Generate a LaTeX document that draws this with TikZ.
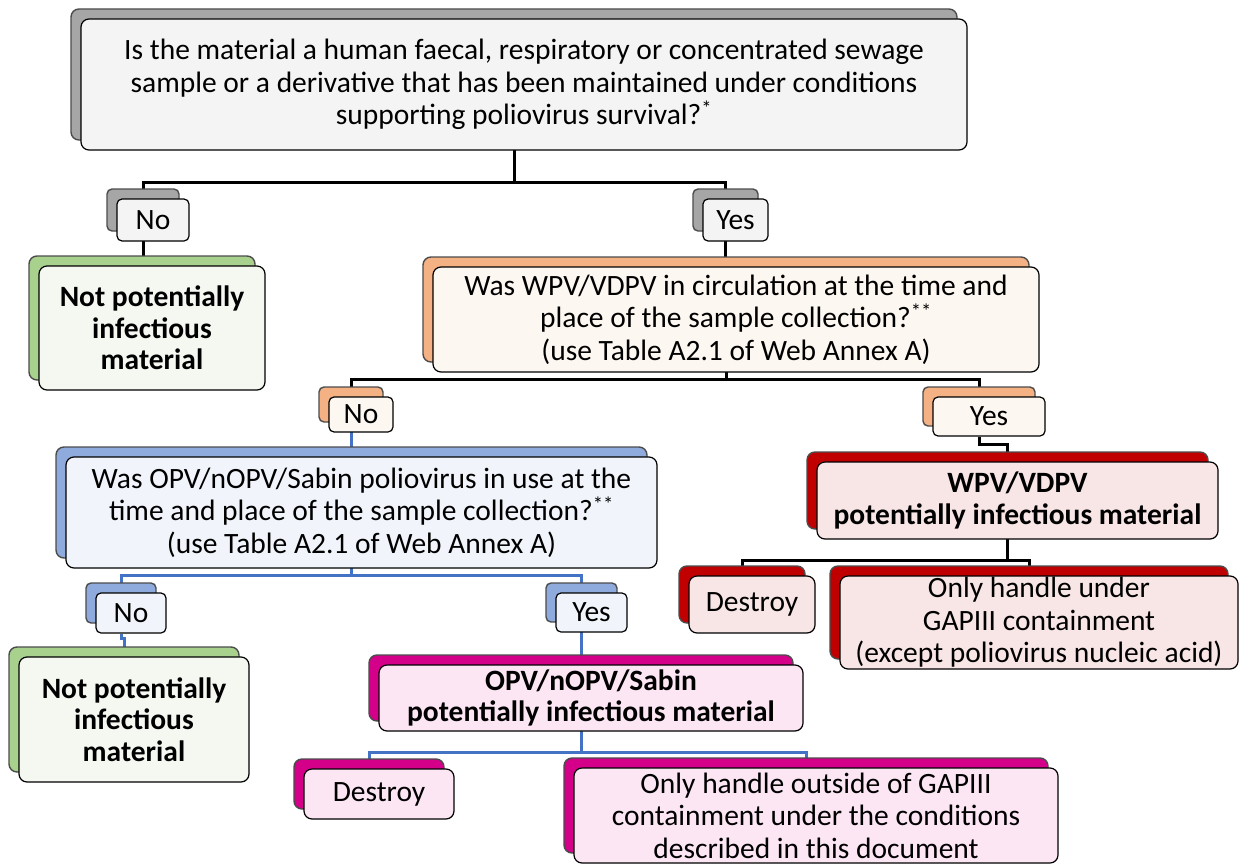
\documentclass[tikz,border=0pt]{standalone}
\usepackage{fontspec}
\setmainfont{Carlito}
\usetikzlibrary{positioning,shadows,backgrounds}
\definecolor{greyback}{HTML}{A6A6A6}
\definecolor{greyfront}{HTML}{F4F4F4}
\definecolor{greenback}{HTML}{A9D18E}
\definecolor{greenfront}{HTML}{F4F8F1}
\definecolor{orangeback}{HTML}{F4B183}
\definecolor{orangefront}{HTML}{FDF7F1}
\definecolor{blueback}{HTML}{8FAADC}
\definecolor{bluefront}{HTML}{F1F5FB}
\definecolor{redback}{HTML}{C00000}
\definecolor{redfront}{HTML}{F8E5E5}
\definecolor{pinkback}{HTML}{D4008A}
\definecolor{pinkfront}{HTML}{FCE6F4}
\definecolor{linkblue}{HTML}{4472C4}

\begin{document}
\begin{tikzpicture}[box/.style={draw=black, line width=1.2pt, rounded corners=8pt, align=center, inner sep=0pt, font=\fontsize{29.5}{32.5}\selectfont},
	tag/.style={box, rounded corners=5pt},
	strong/.style={font=\fontsize{29.5}{31.5}\selectfont\bfseries},
	backing/.style={copy shadow={shadow xshift=-10pt, shadow yshift=10pt, fill=#1, draw=black!70, line width=1.4pt}},
	greybox/.style={fill=greyfront, backing=greyback},
	greenbox/.style={fill=greenfront, backing=greenback},
	orangebox/.style={fill=orangefront, backing=orangeback},
	bluebox/.style={fill=bluefront, backing=blueback},
	redbox/.style={fill=redfront, backing=redback},
	pinkbox/.style={fill=pinkfront, backing=pinkback},
	link/.style={line width=3pt, draw=black},
	bluelink/.style={line width=3pt, draw=linkblue}]
		\useasboundingbox (0pt, 0pt) rectangle (1241pt, -864pt);
		\draw (524.0pt, -84.5pt)node[box, greybox, minimum width=886pt, minimum height=131pt](q1){Is the material a human faecal, respiratory or concentrated sewage\\ sample or a derivative that has been maintained under conditions\\ supporting poliovirus survival?\textsuperscript{*}};
		\draw (153.0pt, -220.0pt)node[tag, greybox, minimum width=72pt, minimum height=42pt](n1){No};
		\draw (735.5pt, -220.0pt)node[tag, greybox, minimum width=65pt, minimum height=42pt](y1){Yes};
		\draw (152.0pt, -328.0pt)node[box, greenbox, strong, minimum width=226pt, minimum height=124pt](npi1){Not potentially\\ infectious\\ material};
		\draw (736.0pt, -319.5pt)node[box, orangebox, minimum width=606pt, minimum height=105pt](q2){Was WPV/VDPV in circulation at the time and\\ place of the sample collection?\textsuperscript{**}\\ (use Table A2.1 of Web Annex A)};
		\draw (361.0pt, -414.5pt)node[tag, orangebox, minimum width=64pt, minimum height=35pt](n2){No};
		\draw (989.0pt, -416.5pt)node[tag, orangebox, minimum width=112pt, minimum height=39pt](y2){Yes};
		\draw (361.5pt, -512.5pt)node[box, bluebox, minimum width=591pt, minimum height=111pt](q3){Was OPV/nOPV/Sabin poliovirus in use at the\\ time and place of the sample collection?\textsuperscript{**}\\ (use Table A2.1 of Web Annex A)};
		\draw (1017.5pt, -500.5pt)node[box, redbox, strong, minimum width=401pt, minimum height=77pt](wpv){WPV/VDPV\\ potentially infectious material};
		\draw (131.0pt, -613.0pt)node[tag, bluebox, minimum width=70pt, minimum height=40pt](n3){No};
		\draw (591.5pt, -612.5pt)node[tag, bluebox, minimum width=71pt, minimum height=39pt](y3){Yes};
		\draw (752.0pt, -604.5pt)node[box, redbox, minimum width=126pt, minimum height=57pt](d1){Destroy};
		\draw (1039.0pt, -622.5pt)node[box, redbox, minimum width=398pt, minimum height=93pt](h1){Only handle under\\ GAPIII containment\\ (except poliovirus nucleic acid)};
		\draw (134.0pt, -719.5pt)node[box, greenbox, strong, minimum width=230pt, minimum height=125pt](npi2){Not potentially\\ infectious\\ material};
		\draw (591.0pt, -698.0pt)node[box, pinkbox, strong, minimum width=424pt, minimum height=66pt](opv){OPV/nOPV/Sabin\\ potentially infectious material};
		\draw (379.0pt, -794.0pt)node[box, pinkbox, minimum width=150pt, minimum height=50pt](d2){Destroy};
		\draw (816.0pt, -815.5pt)node[box, pinkbox, minimum width=484pt, minimum height=95pt](h2){Only handle outside of GAPIII\\ containment under the conditions\\ described in this document};
		\coordinate (j1) at (514.0pt, -182.0pt);
		\coordinate (j2) at (726.0pt, -379.0pt);
		\coordinate (j3) at (1007.5pt, -560.0pt);
		\coordinate (j4) at (351.5pt, -575.0pt);
		\coordinate (j5) at (581.0pt, -752.0pt);
		\begin{scope}[on background layer]
		\draw[link] ([xshift=-10pt]q1.center) -- (j1);
		\draw[link] ([xshift=-10pt]n1.center) |- (j1) -| ([xshift=-10pt]y1.center);
		\draw[link] ([xshift=-10pt]n1.center) |- (npi1.north);
		\draw[link] ([xshift=-10pt]y1.center) |- (q2.north);
		\draw[link] ([xshift=-10pt]q2.center) -- (j2);
		\draw[link] ([xshift=-10pt]n2.center) |- (j2) -| ([xshift=-10pt]y2.center);
		\draw[link] ([xshift=-10pt]y2.south) -- ++(0pt, -8pt) -| ([xshift=-10pt]wpv.north);
		\draw[link] ([xshift=-10pt]wpv.center) -- (j3);
		\draw[link] ([xshift=-10pt]d1.center) |- (j3) -| ([xshift=-10pt]h1.center);
		\draw[bluelink] ([xshift=-10pt]n2.center) |- (q3.north);
		\draw[bluelink] ([xshift=-10pt]q3.center) -- (j4);
		\draw[bluelink] ([xshift=-10pt]n3.center) |- (j4) -| ([xshift=-10pt]y3.center);
		\draw[bluelink] ([xshift=-10pt]n3.south) -- ++(0pt, -5pt) -| ([xshift=-10pt]npi2.north);
		\draw[bluelink] ([xshift=-10pt]y3.center) |- (opv.north);
		\draw[bluelink] ([xshift=-10pt]opv.center) -- (j5);
		\draw[bluelink] ([xshift=-10pt]d2.center) |- (j5) -| ([xshift=-10pt]h2.center);
		\end{scope}
\end{tikzpicture}
\end{document}
